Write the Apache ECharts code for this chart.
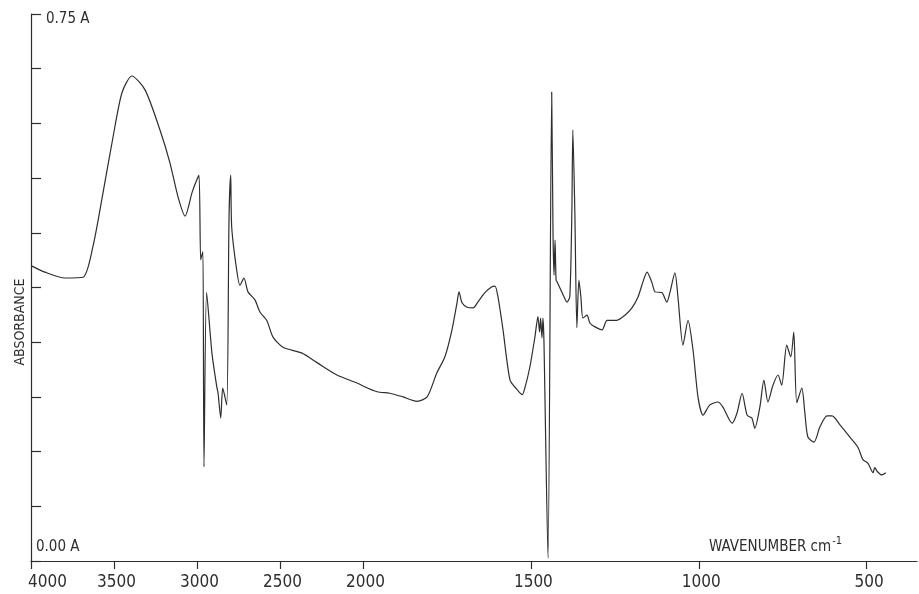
<!DOCTYPE html>
<html>
<head>
<meta charset="utf-8">
<title>IR absorbance spectrum</title>
<script src="https://cdn.jsdelivr.net/npm/echarts@6/dist/echarts.min.js"></script>
<style>
  html, body { margin: 0; padding: 0; background: #fff; }
  #chart { width: 919px; height: 594px; }
</style>
</head>
<body>
<div id="chart"></div>
<script>
// Wavenumber (cm-1) and absorbance samples of the recorded spectrum
const wavenumbers = [
  4000, 3916, 3795, 3687, 3627, 3566, 3506, 3452, 3392, 3313,
  3223, 3163, 3114, 3072, 3030, 3006, 2988, 2978, 2970, 2964,
  2958, 2942, 2910, 2881, 2873, 2857, 2845, 2821, 2807, 2797,
  2791, 2761, 2741, 2717, 2693, 2651, 2620, 2580, 2542, 2482,
  2367, 2277, 2157, 2036, 2000,
  1958, 1920, 1881, 1839, 1809, 1780, 1756, 1735, 1720, 1714,
  1705, 1690, 1672, 1658, 1637, 1616, 1607, 1598, 1583, 1562,
  1541, 1526, 1518, 1503, 1488, 1479, 1474, 1471, 1467, 1464,
  1461, 1449, 1438, 1434, 1431, 1428, 1425, 1422, 1407, 1392,
  1384, 1378, 1375, 1369, 1363, 1357, 1351, 1345, 1333, 1324,
  1309, 1288, 1273, 1244, 1220, 1199, 1181, 1166, 1154, 1139,
  1130, 1110, 1095, 1086, 1071, 1062, 1047, 1032, 1017, 1002,
  987, 967, 943, 928, 901, 886, 871, 856, 842, 833,
  818, 806, 794, 779, 764, 753, 738, 726, 717, 708,
  693, 684, 675, 657, 639, 618, 603, 580, 550, 526,
  511, 496, 481, 476, 467, 455, 443
];
const absorbance = [
  0.405, 0.396, 0.388, 0.389, 0.431, 0.505, 0.581, 0.642, 0.665, 0.646,
  0.591, 0.546, 0.499, 0.473, 0.505, 0.520, 0.529, 0.413, 0.420, 0.424,
  0.129, 0.368, 0.285, 0.239, 0.230, 0.196, 0.237, 0.214, 0.472, 0.529,
  0.458, 0.399, 0.378, 0.388, 0.369, 0.358, 0.341, 0.330, 0.307, 0.293,
  0.285, 0.272, 0.255, 0.244, 0.240,
  0.232, 0.230, 0.225, 0.219, 0.225, 0.258, 0.280, 0.317, 0.354, 0.369,
  0.354, 0.348, 0.347, 0.355, 0.368, 0.376, 0.377, 0.362, 0.317, 0.248,
  0.235, 0.228, 0.237, 0.266, 0.307, 0.335, 0.314, 0.333, 0.306, 0.333,
  0.300, 0.004, 0.643, 0.447, 0.392, 0.440, 0.385, 0.383, 0.368, 0.355,
  0.363, 0.477, 0.591, 0.477, 0.320, 0.385, 0.362, 0.333, 0.337, 0.326,
  0.321, 0.317, 0.330, 0.330, 0.337, 0.347, 0.362, 0.383, 0.396, 0.381,
  0.369, 0.368, 0.355, 0.368, 0.395, 0.362, 0.296, 0.330, 0.289, 0.224,
  0.200, 0.214, 0.218, 0.211, 0.189, 0.203, 0.230, 0.200, 0.196, 0.182,
  0.211, 0.248, 0.218, 0.241, 0.255, 0.241, 0.296, 0.280, 0.314, 0.217,
  0.237, 0.203, 0.170, 0.163, 0.184, 0.199, 0.199, 0.187, 0.170, 0.156,
  0.139, 0.134, 0.121, 0.128, 0.122, 0.118, 0.121
];
// Tick labels: the abscissa changes scale at 2000 cm-1
const highRangeTicks = [4000, 3500, 3000, 2500, 2000];
const lowRangeTicks = [1500, 1000, 500];
const absorbanceRange = [0, 0.75];

const points = wavenumbers.map((w, i) => [w, absorbance[i]]);
const highPart = points.filter(p => p[0] >= 2000);
const lowPart = points.filter(p => p[0] <= 2000);

const FONT = '"Liberation Sans Narrow", "DejaVu Sans Condensed", sans-serif';
const INK = '#2e2e2e';

const axisLineStyle = { color: INK, width: 1.2 };
// The leftmost label sits to the right of its tick instead of centred on it
const tickText = v => (v === 4000 ? '{edge|' + v + '}' : String(v));

const chart = echarts.init(document.getElementById('chart'), null, { renderer: 'canvas' });
chart.setOption({
  backgroundColor: '#ffffff',
  animation: false,
  grid: [
    { left: 31, top: 14, width: 332, height: 547 },
    { left: 363, top: 14, width: 554, height: 547 }
  ],
  xAxis: [
    {
      gridIndex: 0, type: 'value', inverse: true,
      min: 2000, max: 4000, interval: 500,
      axisLine: { lineStyle: axisLineStyle },
      axisTick: { inside: false, length: 8, lineStyle: axisLineStyle,
                  customValues: highRangeTicks },
      axisLabel: { customValues: highRangeTicks, formatter: tickText,
                   color: INK, fontFamily: FONT,
                   fontSize: 17, margin: 13, padding: [0, 0, 0, 5],
                   rich: { edge: { color: INK, fontFamily: FONT, fontSize: 17,
                                   padding: [0, 0, 0, 28] } } },
      splitLine: { show: false }
    },
    {
      gridIndex: 1, type: 'value', inverse: true,
      min: 350, max: 2000,
      axisLine: { lineStyle: axisLineStyle },
      axisTick: { inside: false, length: 8, lineStyle: axisLineStyle,
                  customValues: lowRangeTicks },
      axisLabel: { customValues: lowRangeTicks, formatter: tickText,
                   color: INK, fontFamily: FONT,
                   fontSize: 17, margin: 13, padding: [0, 0, 0, 5] },
      splitLine: { show: false }
    }
  ],
  yAxis: [
    {
      gridIndex: 0, type: 'value',
      min: absorbanceRange[0], max: absorbanceRange[1], interval: 0.075,
      axisLine: { show: true, lineStyle: axisLineStyle },
      axisTick: { show: true, inside: true, length: 10, lineStyle: axisLineStyle },
      axisLabel: { show: false },
      splitLine: { show: false }
    },
    {
      gridIndex: 1, type: 'value', show: false,
      min: absorbanceRange[0], max: absorbanceRange[1]
    }
  ],
  graphic: [
    { type: 'text', left: 46, top: 12,
      style: { text: '0.75 A', fill: INK, font: '15px ' + FONT } },
    { type: 'text', left: 36, top: 540,
      style: { text: '0.00 A', fill: INK, font: '15px ' + FONT } },
    { type: 'text', x: 20, y: 322, rotation: Math.PI / 2,
      style: { text: 'ABSORBANCE', fill: INK, font: '14px ' + FONT,
               align: 'center', verticalAlign: 'middle' } },
    { type: 'text', left: 709, top: 536,
      style: {
        text: '{m|WAVENUMBER cm}{s|-1}',
        rich: {
          m: { fill: INK, fontFamily: FONT, fontSize: 15, verticalAlign: 'bottom' },
          s: { fill: INK, fontFamily: FONT, fontSize: 11, verticalAlign: 'top', padding: [0, 0, 8, 1] }
        }
      } }
  ],
  series: [
    {
      type: 'line', xAxisIndex: 0, yAxisIndex: 0, data: highPart,
      showSymbol: false, smooth: 0.25,
      lineStyle: { color: INK, width: 1.2 }
    },
    {
      type: 'line', xAxisIndex: 1, yAxisIndex: 1, data: lowPart,
      showSymbol: false, smooth: 0.25,
      lineStyle: { color: INK, width: 1.2 }
    }
  ]
});
</script>
</body>
</html>
